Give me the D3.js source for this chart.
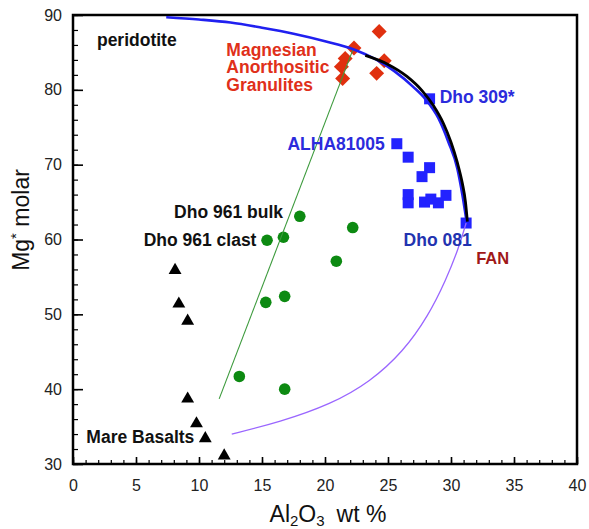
<!DOCTYPE html>
<html><head><meta charset="utf-8">
<script src="https://cdn.jsdelivr.net/npm/d3@7/dist/d3.min.js"></script>
<style>body{margin:0;background:#fff} svg{display:block}</style>
</head><body><svg id="c" width="589" height="529"></svg>
<script>
// ---- data (Al2O3 wt %, Mg* molar) ----
const granulites = [[24.3,87.8],[22.3,85.6],[21.6,84.2],[21.3,83.1],[21.4,81.5],[24.7,83.9],[24.1,82.2]];
const feldspathic = [[28.3,78.8],[25.7,72.8],[26.6,71.0],[28.3,69.6],[27.7,68.4],[26.6,66.0],[26.6,64.9],[27.9,65.0],[28.4,65.4],[29.0,64.9],[29.6,65.9],[31.2,62.2]];
const dho961 = [[18.0,63.1],[22.2,61.6],[15.4,59.9],[16.7,60.3],[20.9,57.1],[15.3,51.6],[16.8,52.4],[13.2,41.7],[16.8,40.0]];
const mareBasalts = [[8.1,55.9],[8.4,51.4],[9.1,49.1],[9.1,38.7],[9.8,35.4],[10.5,33.4],[12.0,31.1]];
const blueCurve = [[7.4,89.7],[10,89.4],[12.5,89.0],[15,88.3],[17.5,87.5],[20,86.5],[22.3,85.4],[24,84.1],[25.5,82.5],[27,80.4],[28,78.7],[29,76.2],[29.8,73.0],[30.5,69.5],[30.9,66.0],[31.2,62.8]];
const blackCurve = [[23.2,84.6],[25.0,83.4],[26.5,81.8],[27.7,79.9],[28.6,77.9],[29.4,75.5],[30.0,73.0],[30.5,70.3],[30.9,67.5],[31.15,65.0],[31.3,62.4]];
const greenLine = [[11.6,38.7],[22.2,85.3]];
const purpleCurve = [[12.6,34.0],[16.4,35.6],[20.5,38.0],[23.6,41.0],[26.2,45.0],[28.2,49.8],[29.6,54.6],[30.6,58.8],[31.2,62.2]];
const xTicks = [0,5,10,15,20,25,30,35,40];
const yTicks = [30,40,50,60,70,80,90];
const labels = [
  {text:"peridotite", x:1.9, y:85.8, anchor:"start", color:"#111", size:17.5},
  {text:"Magnesian", x:12.17, y:84.55, anchor:"start", color:"#e0301a", size:17.5},
  {text:"Anorthositic", x:12.17, y:82.2, anchor:"start", color:"#e0301a", size:17.5},
  {text:"Granulites", x:12.17, y:79.9, anchor:"start", color:"#e0301a", size:17.5},
  {text:"Dho 309*", x:29.1, y:78.2, anchor:"start", color:"#2b2bdc", size:17.5},
  {text:"ALHA81005", x:24.74, y:72.0, anchor:"end", color:"#2b2bdc", size:17.5},
  {text:"Dho 081", x:26.24, y:59.1, anchor:"start", color:"#2233b0", size:17.5},
  {text:"FAN", x:32.0, y:56.67, anchor:"start", color:"#a01818", size:16.5},
  {text:"Dho 961 bulk", x:16.67, y:62.9, anchor:"end", color:"#111", size:17.5},
  {text:"Dho 961 clast", x:14.56, y:59.1, anchor:"end", color:"#111", size:17.5},
  {text:"Mare Basalts", x:1.06, y:32.8, anchor:"start", color:"#111", size:17.5}
];

const font = "'Liberation Sans', Arial, Helvetica, sans-serif";
const svg = d3.select("#c");
const L = 73, R = 577, T = 15, B = 464;
const x = d3.scaleLinear().domain([0,40]).range([L,R]);
const y = d3.scaleLinear().domain([30,90]).range([B,T]);

// minor ticks
svg.append("g").attr("transform",`translate(0,${B})`)
  .call(d3.axisBottom(x).tickValues(d3.range(0,41,1)).tickSize(-4).tickFormat(""))
  .call(g=>g.select(".domain").remove())
  .call(g=>g.selectAll("line").attr("stroke","#000").attr("stroke-width",1.2));
svg.append("g").attr("transform",`translate(${L},0)`)
  .call(d3.axisLeft(y).tickValues(d3.range(30,91,2)).tickSize(-5).tickFormat(""))
  .call(g=>g.select(".domain").remove())
  .call(g=>g.selectAll("line").attr("stroke","#000").attr("stroke-width",1.2));
// major ticks
svg.append("g").attr("transform",`translate(0,${B})`)
  .call(d3.axisBottom(x).tickValues(xTicks).tickSize(-7).tickPadding(16))
  .call(g=>g.select(".domain").remove())
  .call(g=>g.selectAll("line").attr("stroke","#000").attr("stroke-width",1.6))
  .call(g=>g.selectAll("text").attr("font-family",font).attr("font-size",16).attr("fill","#222"));
svg.append("g").attr("transform",`translate(${L},0)`)
  .call(d3.axisLeft(y).tickValues(yTicks).tickSize(-10).tickPadding(11))
  .call(g=>g.select(".domain").remove())
  .call(g=>g.selectAll("line").attr("stroke","#000").attr("stroke-width",1.6))
  .call(g=>g.selectAll("text").attr("font-family",font).attr("font-size",16).attr("fill","#222"));

// frame
svg.append("rect").attr("x",L).attr("y",T).attr("width",R-L).attr("height",B-T)
  .attr("fill","none").attr("stroke","#000").attr("stroke-width",2.5);

// markers
svg.append("g").selectAll("path").data(granulites).join("path")
  .attr("d", d3.symbol().type(d3.symbolSquare).size(112)())
  .attr("transform", d=>`translate(${x(d[0])},${y(d[1])}) rotate(45)`)
  .attr("fill","#e0300f");
svg.append("g").selectAll("path").data(feldspathic).join("path")
  .attr("d", d3.symbol().type(d3.symbolSquare).size(121)())
  .attr("transform", d=>`translate(${x(d[0])},${y(d[1])})`)
  .attr("fill","#2222ff");
svg.append("g").selectAll("circle").data(dho961).join("circle")
  .attr("cx", d=>x(d[0])).attr("cy", d=>y(d[1])).attr("r",5.8)
  .attr("fill","#0d8a12");
svg.append("g").selectAll("path").data(mareBasalts).join("path")
  .attr("d", d3.symbol().type(d3.symbolTriangle).size(72)())
  .attr("transform", d=>`translate(${x(d[0])},${y(d[1])})`)
  .attr("fill","#000");

// lines
const line = d3.line().x(d=>x(d[0])).y(d=>y(d[1]));
const sm = d3.line().x(d=>x(d[0])).y(d=>y(d[1])).curve(d3.curveMonotoneX);
const bs = d3.line().x(d=>x(d[0])).y(d=>y(d[1])).curve(d3.curveBasis);
svg.append("path").attr("d", line(greenLine)).attr("fill","none").attr("stroke","#3c9a3c").attr("stroke-width",1.1);
svg.append("path").attr("d", bs(purpleCurve)).attr("fill","none").attr("stroke","#9a66ff").attr("stroke-width",1.3);
svg.append("path").attr("d", sm(blueCurve)).attr("fill","none").attr("stroke","#2020f0").attr("stroke-width",2.6);
svg.append("path").attr("d", sm(blackCurve)).attr("fill","none").attr("stroke","#000").attr("stroke-width",2.8);

// labels
svg.append("g").selectAll("text").data(labels).join("text")
  .attr("x", d=>x(d.x)).attr("y", d=>y(d.y))
  .attr("text-anchor", d=>d.anchor)
  .attr("font-family", font).attr("font-weight","bold")
  .attr("font-size", d=>d.size).attr("fill", d=>d.color)
  .text(d=>d.text);

// axis titles
const xt = svg.append("text").attr("x",(L+R)/2+3).attr("y",522)
  .attr("text-anchor","middle").attr("font-family",font).attr("font-size",23).attr("fill","#111");
xt.append("tspan").text("Al");
xt.append("tspan").attr("font-size",15).attr("dy",4).text("2");
xt.append("tspan").attr("dy",-4).text("O");
xt.append("tspan").attr("font-size",15).attr("dy",4).text("3");
xt.append("tspan").attr("dy",-4).attr("dx",12).text("wt %");

const yt = svg.append("text").attr("transform","translate(29,220) rotate(-90)")
  .attr("text-anchor","middle").attr("font-family",font).attr("font-size",23).attr("fill","#111");
yt.append("tspan").text("Mg");
yt.append("tspan").attr("font-size",15).attr("dy",-8).text("*");
yt.append("tspan").attr("dy",8).text(" molar");
</script>
</body></html>
